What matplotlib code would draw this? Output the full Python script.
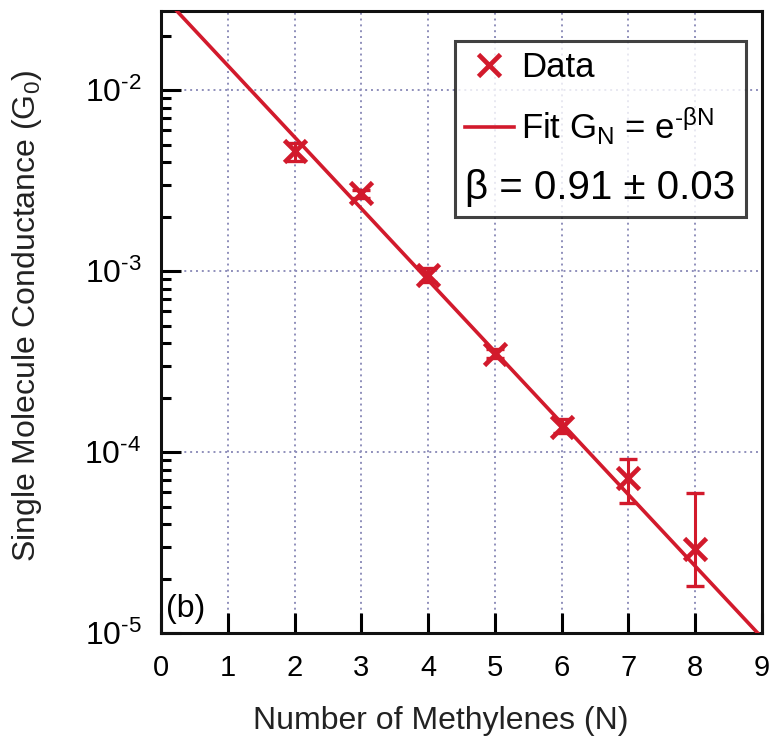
import numpy as np
import matplotlib
matplotlib.use('Agg')
import matplotlib.pyplot as plt
from matplotlib.ticker import FuncFormatter

plt.rcParams['font.family'] = ['Liberation Sans', 'DejaVu Sans']
plt.rcParams['mathtext.fontset'] = 'custom'
plt.rcParams['mathtext.rm'] = 'Liberation Sans'
plt.rcParams['mathtext.it'] = 'Liberation Sans'
plt.rcParams['mathtext.bf'] = 'Liberation Sans:bold'
plt.rcParams['axes.unicode_minus'] = False

# data
n_methylenes = [2, 3, 4, 5, 6, 7, 8]
conductance = [4.6e-3, 2.69e-3, 9.5e-4, 3.5e-4, 1.38e-4, 7.2e-5, 2.92e-5]
err_low = [4.05e-3, 2.55e-3, 8.7e-4, 3.3e-4, 1.28e-4, 5.2e-5, 1.82e-5]
err_high = [5.1e-3, 2.82e-3, 1.04e-3, 3.7e-4, 1.52e-4, 9.2e-5, 5.96e-5]

fit_A = 0.034
fit_beta = 0.91

red = '#d21a2c'
grid_color = '#8f8fbb'

fig = plt.figure(figsize=(7.82, 7.52), dpi=100)
ax = fig.add_axes([0.2059, 0.1582, 0.7685, 0.8272])

ax.set_yscale('log')
ax.set_xlim(0, 9)
ax.set_ylim(1e-5, 0.0274)

# fit line
N_fit = np.linspace(0, 9, 200)
G_fit = fit_A * np.exp(-fit_beta * N_fit)
fit_line, = ax.plot(N_fit, G_fit, color=red, lw=2.6, zorder=3)

# data with error bars
G = np.array(conductance)
yerr = [G - np.array(err_low), np.array(err_high) - G]
ax.errorbar(n_methylenes, G, yerr=yerr, fmt='none', ecolor=red,
            elinewidth=2.2, capsize=6.5, capthick=2.4, zorder=4)
data_pts, = ax.plot(n_methylenes, G, 'x', color=red, ms=16, mew=3.4,
                    linestyle='none', zorder=5)

# grid
ax.set_xticks(range(0, 10))
ax.grid(True, which='major', linestyle=(0, (1, 2)), color=grid_color, lw=1.4)
ax.set_axisbelow(True)


def decade_label(v, pos):
    e = int(round(np.log10(v)))
    return '10$^{\\text{-%d}}$' % (-e)


ax.yaxis.set_major_formatter(FuncFormatter(decade_label))

for s in ax.spines.values():
    s.set_linewidth(2.2)
    s.set_color('#111111')

ax.tick_params(axis='both', which='major', direction='in', length=14.5,
               width=2.2, labelsize=21, top=False, right=False)
ax.tick_params(axis='y', which='minor', direction='in', length=7,
               width=2.2, right=False)
ax.tick_params(axis='x', which='minor', bottom=False)
ax.tick_params(axis='y', which='major', labelsize=23, pad=14)
ax.tick_params(axis='x', which='major', pad=15)

ax.set_xlabel('Number of Methylenes (N)', fontsize=23, color='#222222')
ax.set_ylabel('Single Molecule Conductance (G$_0$)', fontsize=23, color='#222222')
ax.xaxis.set_label_coords(0.466, -0.118)
ax.yaxis.set_label_coords(-0.195, 0.51)

ax.text(0.008, 0.014, '(b)', transform=ax.transAxes, fontsize=23,
        ha='left', va='bottom')

leg = ax.legend([data_pts, fit_line],
                ['Data', 'Fit G$_\\mathrm{N}$ = e$^{\\text{-βN}}$'],
                loc='upper right', bbox_to_anchor=(0.973, 0.952),
                fontsize=25, frameon=True, fancybox=False,
                edgecolor='#111111', handlelength=1.4, handletextpad=0.2,
                borderpad=0.3, labelspacing=0.62, borderaxespad=0,
                title='β = 0.91 ± 0.03',
                title_fontproperties={'size': 29})
leg.get_frame().set_linewidth(2.2)
leg.set_alignment('left')
leg._legend_box._children.reverse()

fig.savefig('out.png', dpi=100)
